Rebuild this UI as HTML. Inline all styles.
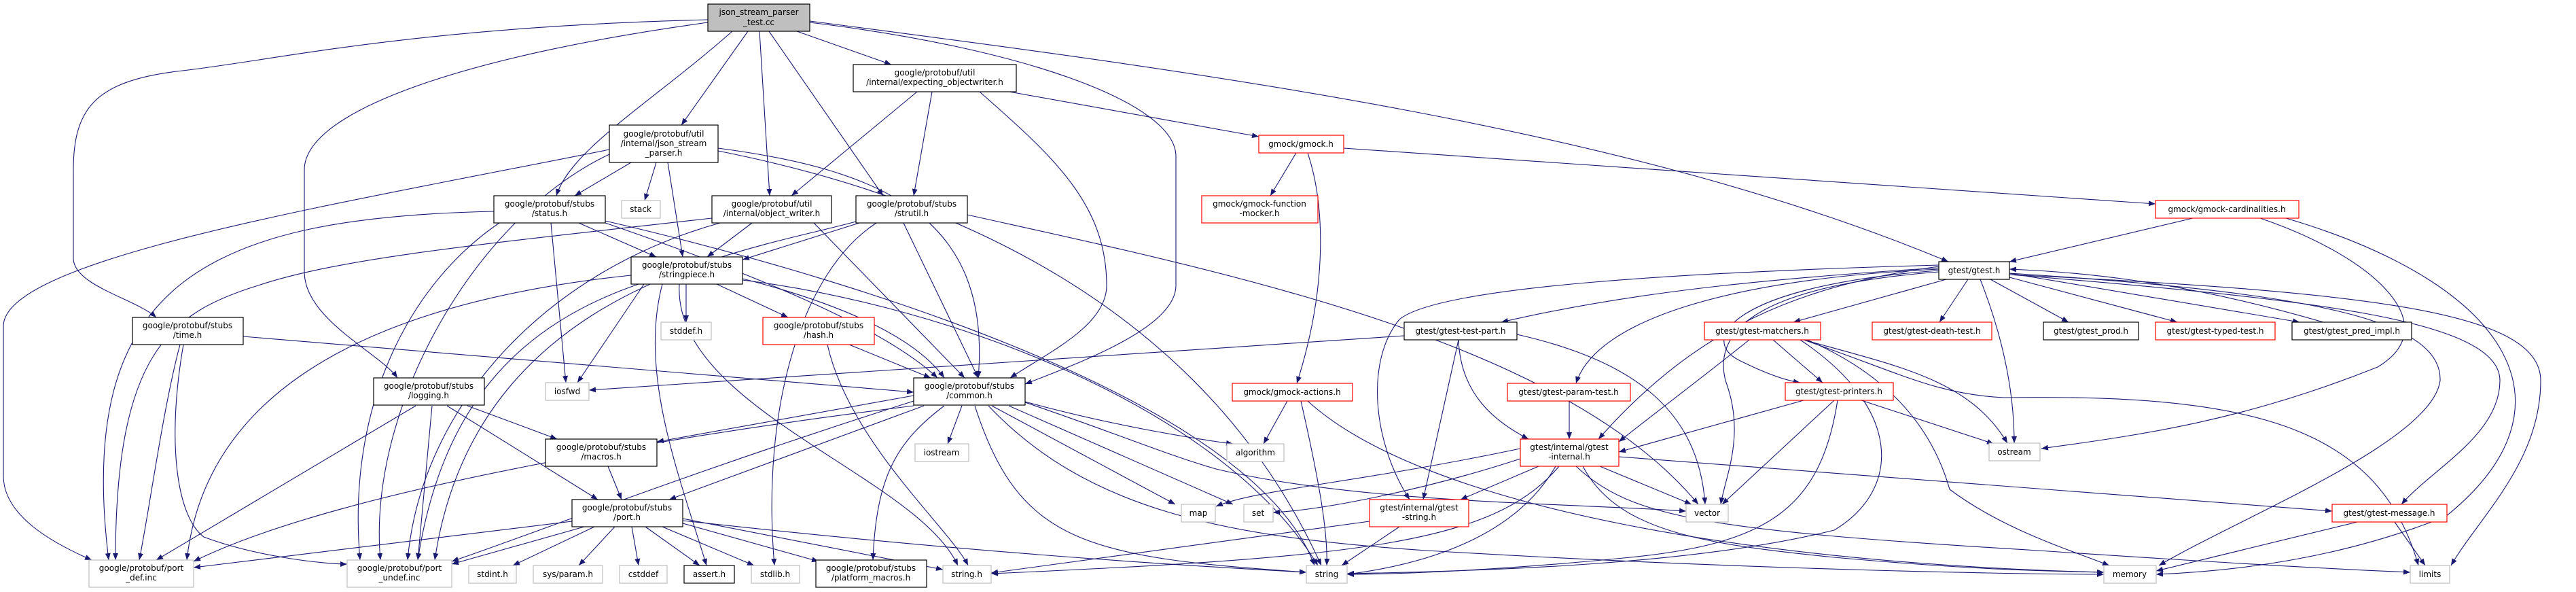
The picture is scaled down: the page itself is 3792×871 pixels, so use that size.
<!DOCTYPE html>
<html><head><meta charset="utf-8">
<style>
html,body{margin:0;padding:0;background:#fff;}
svg{display:block;}
text{font-family:"DejaVu Sans","Liberation Sans",sans-serif;font-size:12px;fill:#000;}
.e{fill:none;stroke:#191970;stroke-width:1.1;marker-end:url(#a);}
.n{fill:#fff;stroke:#000;stroke-width:1.2;}
.g{fill:#fff;stroke:#bfbfbf;stroke-width:1.2;}
.r{fill:#fff;stroke:#ff0000;stroke-width:1.2;}
</style></head>
<body>
<svg width="3792" height="871" viewBox="0 0 3792 871" xmlns="http://www.w3.org/2000/svg">
<defs><marker id="a" markerWidth="10" markerHeight="8" refX="10" refY="4" orient="auto" markerUnits="userSpaceOnUse"><path d="M0,0 L10,4 L0,8 z" fill="#191970"/></marker></defs>
<g>
<path class="e" d="M1042,29 C600,40 400,90 260,105 C140,120 108,160 108,250 L108,380 C108,420 200,440 230,467"/>
<path class="e" d="M1042,33 C700,80 448,160 448,250 L448,400 C448,470 560,520 585,556"/>
<path class="e" d="M1078,46 C960,150 840,220 819,288"/>
<path class="e" d="M1101,46 L1003,184"/>
<path class="e" d="M1118,46 L1133,288"/>
<path class="e" d="M1132,46 L1300,288"/>
<path class="e" d="M1173,46 L1312,95"/>
<path class="e" d="M1192,33 C1500,70 1731,150 1731,230 L1731,420 C1731,480 1600,530 1509,565"/>
<path class="e" d="M1192,31 C1800,110 2400,190 2868,385"/>
<path class="e" d="M897,220 C500,300 5,380 5,480 L5,700 C5,760 80,800 135,824"/>
<path class="e" d="M897,227 C700,320 540,600 560,824"/>
<path class="e" d="M929,239 L846,288"/>
<path class="e" d="M966,239 L949,295"/>
<path class="e" d="M983,239 L1005,378"/>
<path class="e" d="M1057,218 C1300,250 1460,320 1440,556"/>
<path class="e" d="M1057,222 C1300,270 1750,400 1945,832"/>
<path class="e" d="M727,311 C300,320 110,420 160,824"/>
<path class="e" d="M735,328 C600,420 510,600 530,824"/>
<path class="e" d="M811,328 L833,563"/>
<path class="e" d="M852,328 L966,378"/>
<path class="e" d="M891,328 C1100,400 1300,480 1380,556"/>
<path class="e" d="M891,325 C1300,420 1850,600 1935,832"/>
<path class="e" d="M1048,321 C700,360 500,380 380,420 C250,460 170,520 170,824"/>
<path class="e" d="M1060,328 C800,400 620,600 600,824"/>
<path class="e" d="M1107,328 L1041,378"/>
<path class="e" d="M1198,328 L1420,556"/>
<path class="e" d="M1265,328 L1093,382"/>
<path class="e" d="M1330,328 L1440,556"/>
<path class="e" d="M1290,328 C1180,400 1120,600 1140,832"/>
<path class="e" d="M1424,316 C1800,400 2300,500 2500,742"/>
<path class="e" d="M1260,326 C1100,370 700,420 640,824"/>
<path class="e" d="M1350,135 L1165,288"/>
<path class="e" d="M1372,135 L1345,288"/>
<path class="e" d="M1442,135 C1550,230 1629,300 1629,420 C1629,480 1540,520 1487,556"/>
<path class="e" d="M1486,135 L1853,201"/>
<path class="e" d="M929,405 C500,450 300,600 275,824"/>
<path class="e" d="M940,418 C760,480 650,600 615,824"/>
<path class="e" d="M948,418 L850,563"/>
<path class="e" d="M1010,418 L1010,474"/>
<path class="e" d="M1055,418 L1160,467"/>
<path class="e" d="M975,418 C940,550 1000,700 1040,832"/>
<path class="e" d="M1000,418 C990,600 1350,700 1410,832"/>
<path class="e" d="M1093,410 C1250,450 1350,500 1390,556"/>
<path class="e" d="M1093,412 C1400,450 1800,600 1940,832"/>
<path class="e" d="M1250,507 L1370,556"/>
<path class="e" d="M1218,507 C1250,650 1400,780 1425,832"/>
<path class="e" d="M358,495 L1345,577"/>
<path class="e" d="M265,507 C240,600 220,750 205,824"/>
<path class="e" d="M270,507 C245,650 260,760 300,790 C380,820 480,830 511,830"/>
<path class="e" d="M612,597 L230,824"/>
<path class="e" d="M636,597 L615,824"/>
<path class="e" d="M688,597 L820,646"/>
<path class="e" d="M658,597 L880,735"/>
<path class="e" d="M895,686 L915,735"/>
<path class="e" d="M842,767 L285,835"/>
<path class="e" d="M860,775 L665,830"/>
<path class="e" d="M875,775 L755,832"/>
<path class="e" d="M905,775 L852,832"/>
<path class="e" d="M930,775 L940,832"/>
<path class="e" d="M950,775 L1030,832"/>
<path class="e" d="M975,775 L1110,832"/>
<path class="e" d="M1005,770 L1205,826"/>
<path class="e" d="M1005,763 C1200,800 1300,820 1388,838"/>
<path class="e" d="M1005,766 C1400,810 1700,830 1923,842"/>
<path class="e" d="M1345,597 C1000,640 500,720 285,826"/>
<path class="e" d="M1345,582 L967,650"/>
<path class="e" d="M1360,597 L985,735"/>
<path class="e" d="M1345,590 C1000,700 800,780 665,826"/>
<path class="e" d="M1416,597 L1395,653"/>
<path class="e" d="M1509,591 C1650,630 1790,650 1815,653"/>
<path class="e" d="M1460,597 L1730,742"/>
<path class="e" d="M1485,597 L1815,742"/>
<path class="e" d="M1509,592 C1650,640 1720,670 1790,690 C2000,740 2300,740 2482,752"/>
<path class="e" d="M1435,597 C1500,800 1600,820 1923,842"/>
<path class="e" d="M1455,597 C1600,750 1800,790 2100,810 C2600,840 3000,845 3097,845"/>
<path class="e" d="M1390,597 C1320,650 1290,700 1285,824"/>
<path class="e" d="M1908,225 L1870,288"/>
<path class="e" d="M1925,225 C1950,300 1955,420 1909,564"/>
<path class="e" d="M1978,218 L3173,300"/>
<path class="e" d="M1895,590 L1860,653"/>
<path class="e" d="M1915,590 C1940,700 1955,780 1953,832"/>
<path class="e" d="M1925,590 C2100,750 2600,830 3097,842"/>
<path class="e" d="M3228,321 L2958,385"/>
<path class="e" d="M3327,321 C3500,380 3600,480 3500,540 C3300,620 3150,640 3005,660"/>
<path class="e" d="M3365,321 C3700,420 3800,600 3600,760 C3450,820 3300,840 3174,845"/>
<path class="e" d="M2865,411 L2640,474"/>
<path class="e" d="M2897,411 L2855,474"/>
<path class="e" d="M2930,411 L3045,474"/>
<path class="e" d="M2958,408 L3205,474"/>
<path class="e" d="M3420,474 C3200,410 3050,400 2958,396"/>
<path class="e" d="M2958,402 L3385,474"/>
<path class="e" d="M2915,411 C2950,500 2965,580 2965,652"/>
<path class="e" d="M2958,402 C3400,430 3595,470 3592,560 C3580,650 3300,760 3178,832"/>
<path class="e" d="M2958,404 C3500,430 3740,460 3740,560 C3740,680 3650,760 3608,832"/>
<path class="e" d="M2958,404 C3400,440 3680,470 3680,560 C3680,640 3580,690 3535,742"/>
<path class="e" d="M2854,400 C2600,420 2520,480 2540,560 C2570,640 2540,700 2533,742"/>
<path class="e" d="M2854,398 C2550,420 2500,500 2560,530 C2600,550 2630,560 2650,563"/>
<path class="e" d="M2854,392 C2650,420 2500,480 2353,646"/>
<path class="e" d="M2854,394 C2600,410 2400,430 2210,474"/>
<path class="e" d="M2854,396 C2550,410 2350,470 2320,564"/>
<path class="e" d="M2854,390 C2500,400 2120,420 2060,470 C2010,530 2020,650 2075,735"/>
<path class="e" d="M2067,494 L867,574"/>
<path class="e" d="M2147,500 C2150,580 2200,620 2250,646"/>
<path class="e" d="M2147,500 L2095,735"/>
<path class="e" d="M2233,492 C2400,530 2500,600 2510,742"/>
<path class="e" d="M2310,590 L2310,646"/>
<path class="e" d="M2610,500 L2683,563"/>
<path class="e" d="M2575,500 C2500,560 2420,620 2383,650"/>
<path class="e" d="M2655,500 C2800,540 2900,560 2955,652"/>
<path class="e" d="M2660,500 C2800,560 2850,650 2870,720 C2950,780 3050,810 3105,832"/>
<path class="e" d="M2655,500 C2800,550 2850,580 2950,585 C3300,580 3500,620 3560,832"/>
<path class="e" d="M2650,500 C2800,600 2800,720 2700,780 C2500,830 2200,840 1983,844"/>
<path class="e" d="M2655,589 L2383,665"/>
<path class="e" d="M2740,589 L2935,653"/>
<path class="e" d="M2700,589 L2535,742"/>
<path class="e" d="M2705,589 C2680,750 2600,800 2400,820 C2200,840 2050,845 1983,845"/>
<path class="e" d="M2238,660 C2000,710 1850,720 1790,745"/>
<path class="e" d="M2238,675 C2100,720 1950,750 1874,754"/>
<path class="e" d="M2265,686 L2150,735"/>
<path class="e" d="M2290,686 C2230,790 2100,830 1983,845"/>
<path class="e" d="M2295,686 C2200,800 2000,820 1459,844"/>
<path class="e" d="M2355,686 L2490,742"/>
<path class="e" d="M2383,672 L3433,752"/>
<path class="e" d="M2330,686 C2380,780 2500,800 2700,820 C2900,838 3000,840 3097,842"/>
<path class="e" d="M2320,686 C2400,760 2500,780 3000,810 C3300,830 3450,838 3548,842"/>
<path class="e" d="M2016,767 L1459,843"/>
<path class="e" d="M2060,775 L1975,832"/>
<path class="e" d="M3470,768 L3174,840"/>
<path class="e" d="M3525,768 L3570,832"/>
</g>
<g text-anchor="middle">
<rect x="1042" y="6" width="150" height="40" fill="#bfbfbf" stroke="#000" stroke-width="1.2"/><text x="1117" y="22">json_stream_parser</text><text x="1117" y="37">_test.cc</text>
<rect class="n" x="897" y="184" width="160" height="55"/><text x="977" y="201">google/protobuf/util</text><text x="977" y="215">/internal/json_stream</text><text x="977" y="229">_parser.h</text>
<rect class="n" x="727" y="288" width="164" height="40"/><text x="809" y="304">google/protobuf/stubs</text><text x="809" y="318">/status.h</text>
<rect class="g" x="915" y="295" width="57" height="26"/><text x="943" y="312">stack</text>
<rect class="n" x="1048" y="288" width="176" height="40"/><text x="1136" y="304">google/protobuf/util</text><text x="1136" y="318">/internal/object_writer.h</text>
<rect class="n" x="1260" y="288" width="164" height="40"/><text x="1342" y="304">google/protobuf/stubs</text><text x="1342" y="318">/strutil.h</text>
<rect class="n" x="1256" y="95" width="240" height="40"/><text x="1376" y="111">google/protobuf/util</text><text x="1376" y="125">/internal/expecting_objectwriter.h</text>
<rect class="n" x="929" y="378" width="164" height="40"/><text x="1011" y="394">google/protobuf/stubs</text><text x="1011" y="408">/stringpiece.h</text>
<rect class="r" x="1853" y="199" width="125" height="26"/><text x="1915" y="216">gmock/gmock.h</text>
<rect class="r" x="1769" y="288" width="171" height="40"/><text x="1854" y="304">gmock/gmock-function</text><text x="1854" y="318">-mocker.h</text>
<rect class="n" x="195" y="467" width="163" height="40"/><text x="276" y="483">google/protobuf/stubs</text><text x="276" y="497">/time.h</text>
<rect class="g" x="973" y="474" width="74" height="26"/><text x="1010" y="491">stddef.h</text>
<rect class="r" x="1123" y="467" width="164" height="40"/><text x="1205" y="483">google/protobuf/stubs</text><text x="1205" y="497">/hash.h</text>
<rect class="n" x="550" y="556" width="163" height="40"/><text x="631" y="572">google/protobuf/stubs</text><text x="631" y="586">/logging.h</text>
<rect class="g" x="803" y="563" width="64" height="26"/><text x="835" y="580">iosfwd</text>
<rect class="n" x="803" y="646" width="164" height="40"/><text x="885" y="662">google/protobuf/stubs</text><text x="885" y="676">/macros.h</text>
<rect class="n" x="842" y="735" width="163" height="40"/><text x="923" y="751">google/protobuf/stubs</text><text x="923" y="765">/port.h</text>
<rect class="g" x="131" y="824" width="154" height="40"/><text x="208" y="840">google/protobuf/port</text><text x="208" y="854">_def.inc</text>
<rect class="g" x="511" y="824" width="154" height="40"/><text x="588" y="840">google/protobuf/port</text><text x="588" y="854">_undef.inc</text>
<rect class="g" x="690" y="832" width="70" height="26"/><text x="725" y="849">stdint.h</text>
<rect class="g" x="785" y="832" width="102" height="26"/><text x="836" y="849">sys/param.h</text>
<rect class="g" x="912" y="832" width="70" height="26"/><text x="947" y="849">cstddef</text>
<rect class="n" x="1007" y="832" width="74" height="26"/><text x="1044" y="849">assert.h</text>
<rect class="g" x="1106" y="832" width="71" height="26"/><text x="1141" y="849">stdlib.h</text>
<rect class="n" x="1201" y="824" width="163" height="40"/><text x="1282" y="840">google/protobuf/stubs</text><text x="1282" y="854">/platform_macros.h</text>
<rect class="n" x="1345" y="556" width="164" height="40"/><text x="1427" y="572">google/protobuf/stubs</text><text x="1427" y="586">/common.h</text>
<rect class="r" x="1814" y="564" width="177" height="26"/><text x="1902" y="581">gmock/gmock-actions.h</text>
<rect class="n" x="2067" y="474" width="166" height="26"/><text x="2150" y="491">gtest/gtest-test-part.h</text>
<rect class="r" x="2219" y="564" width="181" height="26"/><text x="2309" y="581">gtest/gtest-param-test.h</text>
<rect class="r" x="2238" y="646" width="145" height="40"/><text x="2310" y="662">gtest/internal/gtest</text><text x="2310" y="676">-internal.h</text>
<rect class="g" x="1347" y="653" width="79" height="26"/><text x="1386" y="670">iostream</text>
<rect class="g" x="1806" y="653" width="84" height="26"/><text x="1848" y="670">algorithm</text>
<rect class="g" x="1739" y="742" width="50" height="26"/><text x="1764" y="759">map</text>
<rect class="g" x="1831" y="742" width="43" height="26"/><text x="1852" y="759">set</text>
<rect class="r" x="2016" y="735" width="146" height="40"/><text x="2089" y="751">gtest/internal/gtest</text><text x="2089" y="765">-string.h</text>
<rect class="g" x="2482" y="742" width="62" height="26"/><text x="2513" y="759">vector</text>
<rect class="g" x="1388" y="832" width="71" height="26"/><text x="1423" y="849">string.h</text>
<rect class="g" x="1923" y="832" width="60" height="26"/><text x="1953" y="849">string</text>
<rect class="r" x="3173" y="295" width="211" height="26"/><text x="3278" y="312">gmock/gmock-cardinalities.h</text>
<rect class="n" x="2854" y="385" width="104" height="26"/><text x="2906" y="402">gtest/gtest.h</text>
<rect class="r" x="2509" y="474" width="171" height="26"/><text x="2594" y="491">gtest/gtest-matchers.h</text>
<rect class="r" x="2756" y="474" width="176" height="26"/><text x="2844" y="491">gtest/gtest-death-test.h</text>
<rect class="n" x="3008" y="474" width="140" height="26"/><text x="3078" y="491">gtest/gtest_prod.h</text>
<rect class="r" x="3173" y="474" width="176" height="26"/><text x="3261" y="491">gtest/gtest-typed-test.h</text>
<rect class="n" x="3374" y="474" width="176" height="26"/><text x="3462" y="491">gtest/gtest_pred_impl.h</text>
<rect class="r" x="2628" y="563" width="159" height="26"/><text x="2707" y="580">gtest/gtest-printers.h</text>
<rect class="g" x="2928" y="652" width="75" height="26"/><text x="2965" y="669">ostream</text>
<rect class="r" x="3433" y="742" width="169" height="26"/><text x="3517" y="759">gtest/gtest-message.h</text>
<rect class="g" x="3097" y="832" width="77" height="26"/><text x="3135" y="849">memory</text>
<rect class="g" x="3548" y="832" width="58" height="26"/><text x="3577" y="849">limits</text>
</g>
</svg>
</body></html>
